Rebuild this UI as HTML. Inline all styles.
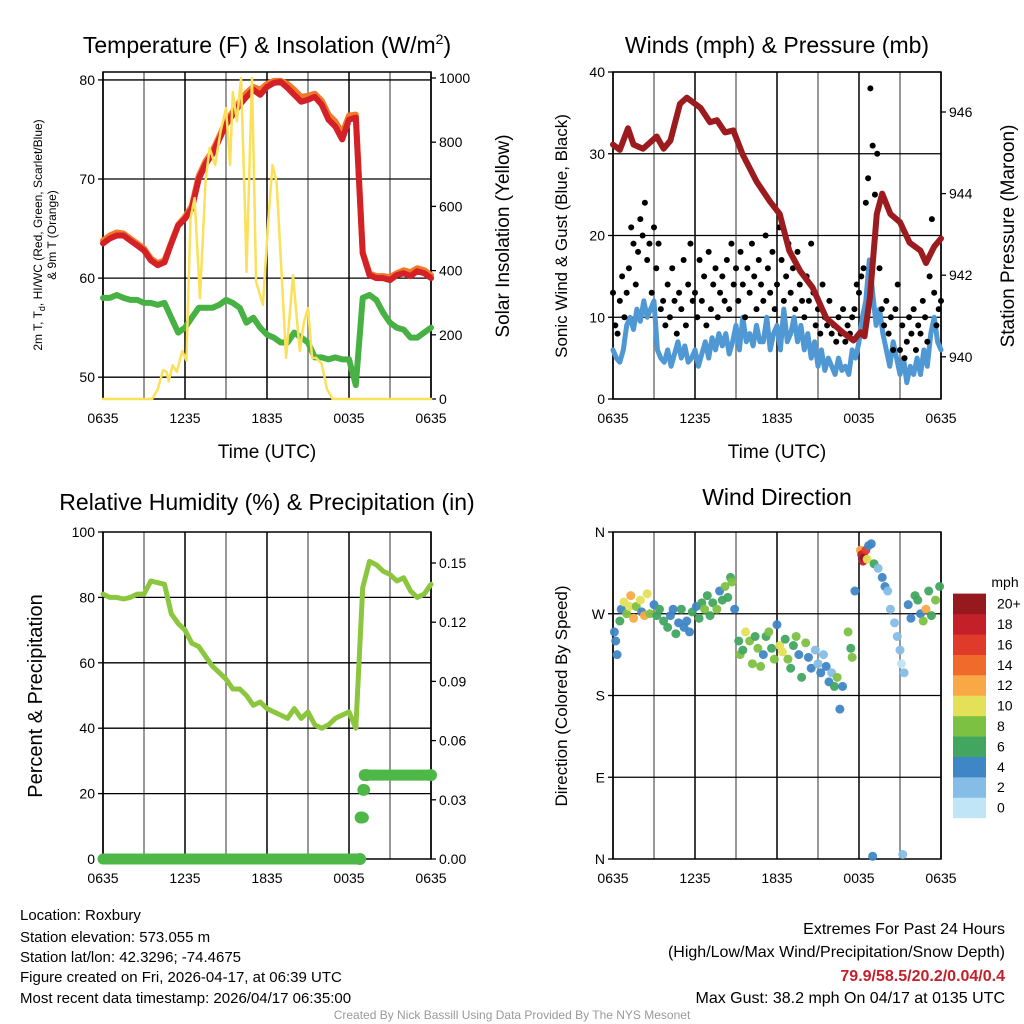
<!DOCTYPE html>
<html><head><meta charset="utf-8"><style>
html,body{margin:0;padding:0;background:#fff;}
svg{display:block;font-family:"Liberation Sans",sans-serif;}
</style></head><body>
<svg id="fig" width="1024" height="1024" viewBox="0 0 1024 1024" xmlns="http://www.w3.org/2000/svg">
<rect width="1024" height="1024" fill="#fff"/>
<g id="g1"></g><g id="g2"></g><g id="g3"></g><g id="g4"></g>
<text x="267" y="53" font-size="23" text-anchor="middle">Temperature (F) &amp; Insolation (W/m<tspan font-size="14" dy="-9">2</tspan><tspan dy="9">)</tspan></text>
<text x="777" y="53" font-size="23" text-anchor="middle">Winds (mph) &amp; Pressure (mb)</text>
<text x="267" y="510" font-size="23" text-anchor="middle">Relative Humidity (%) &amp; Precipitation (in)</text>
<text x="777" y="505" font-size="23" text-anchor="middle">Wind Direction</text>
<text x="267" y="458" font-size="19" text-anchor="middle">Time (UTC)</text>
<text x="777" y="458" font-size="19" text-anchor="middle">Time (UTC)</text>
<text transform="translate(42,235) rotate(-90)" font-size="12" text-anchor="middle">2m T, T<tspan font-size="9" dy="3">d</tspan><tspan dy="-3">, HI/WC (Red, Green, Scarlet/Blue)</tspan></text>
<text transform="translate(56,235) rotate(-90)" font-size="12" text-anchor="middle">&amp; 9m T (Orange)</text>
<text transform="translate(509,236) rotate(-90)" font-size="19" text-anchor="middle">Solar Insolation (Yellow)</text>
<text transform="translate(567,236) rotate(-90)" font-size="17" text-anchor="middle">Sonic Wind &amp; Gust (Blue, Black)</text>
<text transform="translate(1014,236) rotate(-90)" font-size="19" text-anchor="middle">Station Pressure (Maroon)</text>
<text transform="translate(42,696) rotate(-90)" font-size="20" text-anchor="middle">Percent &amp; Precipitation</text>
<text transform="translate(567,696) rotate(-90)" font-size="17" text-anchor="middle">Direction (Colored By Speed)</text>
<g font-size="15">
<text x="20" y="920">Location: Roxbury</text>
<text x="20" y="942">Station elevation: 573.055 m</text>
<text x="20" y="962">Station lat/lon: 42.3296; -74.4675</text>
<text x="20" y="982">Figure created on Fri, 2026-04-17, at 06:39 UTC</text>
<text x="20" y="1003">Most recent data timestamp: 2026/04/17 06:35:00</text>
</g>
<g font-size="16" text-anchor="end">
<text x="1005" y="934">Extremes For Past 24 Hours</text>
<text x="1005" y="957">(High/Low/Max Wind/Precipitation/Snow Depth)</text>
<text x="1005" y="981" fill="#c4202a" font-weight="bold">79.9/58.5/20.2/0.04/0.4</text>
<text x="1005" y="1003">Max Gust: 38.2 mph On 04/17 at 0135 UTC</text>
</g>
<text x="512" y="1019" font-size="12" fill="#999" text-anchor="middle">Created By Nick Bassill Using Data Provided By The NYS Mesonet</text>
</svg>
<script>
// ---- data ----
const xTickLabels = ["0635","1235","1835","0035","0635"];
const tempF = [63.5,64,64.3,64.3,63.8,63.3,62.8,61.8,61.3,61.6,63.5,65.3,66,67,70,71.5,72.5,74,75.5,76.5,77.5,78.3,79,78.5,79.3,79.7,79.8,79.2,78.5,77.8,78,78.3,77.5,76,75.3,74,76,76.2,62.5,60.3,60,60,59.8,60.3,60.5,60.2,60.7,60.5,60];
const temp9mF = [63.8,64.3,64.6,64.5,64,63.5,63,62,61.5,61.8,63.6,65.4,66.2,67.3,70.3,71.8,72.8,74.3,75.8,76.8,77.8,78.7,79.3,79,79.6,79.9,79.9,79.6,79,78.3,78.4,78.6,77.9,76.5,75.8,74.6,76.4,76.5,62.6,60.5,60.2,60.2,60.1,60.5,60.8,60.6,61,60.8,60.3];
const dewF = [58,58,58.3,58,57.8,57.8,57.5,57.5,57.3,57.5,56,54.5,55,56,57,57,57,57.3,57.8,57.5,57,55.5,56,55,54.3,54,53.5,53.5,54.5,54,53.5,52,52,51.8,52,51.8,51.8,49.2,58,58.3,57.8,56.5,55.5,55,54.8,54,54,54.5,55];
const solarT = [0,3.6,4.0,4.4,4.66,4.8,5.1,5.4,5.8,6.1,6.4,6.7,7.1,7.5,7.8,8.2,8.6,9.0,9.3,9.5,9.8,10.1,10.4,10.5,10.9,11.2,11.7,12.1,12.4,12.7,13.1,13.4,13.9,14.4,14.7,15.0,15.3,15.6,16.0,16.4,16.8,24];
const solarW = [0,0,30,90,84,55,105,85,150,120,563,626,314,676,782,729,832,906,729,956,865,1000,583,396,1000,365,293,560,729,676,365,128,385,150,240,283,128,128,110,30,0,0];
const presT = [0,0.5,1.1,1.5,2.2,3.2,3.7,4.2,4.9,5.4,6.4,7.1,7.6,8.2,8.8,9.5,10.5,11.5,12.2,12.9,13.7,14.6,15.6,16.8,17.6,18.1,18.4,18.8,19.3,19.7,20.3,21,21.7,22.5,22.9,23.5,24];
const presMb = [945.2,945.07,945.6,945.2,945.1,945.4,945.1,945.3,946.2,946.35,946.1,945.75,945.8,945.5,945.55,944.95,944.3,943.8,943.5,942.6,942.1,941.7,940.95,940.6,940.4,940.6,940.5,941.45,943.5,944.0,943.5,943.3,942.8,942.6,942.3,942.7,942.9];
const windMph = [6,5,4.5,6,9,10,8.5,11,9.5,12,10,11,12,6,5,4.5,6,4,5.5,7,5,6.5,4.5,5,6,4,5.5,7,5,7.5,6,8,6.5,8,5.5,7,9,6,10,7,8,6.5,9,7,7,10,6,8,9,6,11,7,8,10,7,9,6,8,5,7,4,6,3.5,5,4,3,5,3.5,4,3,6,5,7,10,12,17,13,9,11,8,6,4,7,5,3,5,2,4,3,5,3,6,4,8,10,7,6];
const gustMph = [13,9,8,12,15,10,13,16,21,19,14,18,22,20,24,17,19,13,21,16,19,11,12,9,14,10,16,12,8,13,11,17,9,14,19,12,13,10,17,12,15,9,18,11,14,16,10,13,15,12,17,11,19,14,16,12,18,14,10,16,13,19,15,11,17,14,12,20,16,13,18,11,14,21,17,12,15,19,13,16,11,18,14,12,10,15,12,19,13,9,11,8,14,10,9,12,8,9,7,10,8,11,7,9,8,10,11,14,13,15,16,24,27,38,31,25,30,16,11,9,12,8,10,6,11,14,6,9,5,7,10,8,11,6,9,8,12,10,7,15,22,13,9,11,12];
const rhPct = [81,80,80,79.5,80,81,81,85,84.5,84,75,72,70,66,65,62,59,57,55,52,52,50,47,48,46,45,44,43,46,43,45,41,40,41,43,44,45,40,83,91,90,88,87,85,86,82,80,81,84];
const precipT = [0,18.8,18.85,18.95,19.05,19.15,19.3,24];
const precipIn = [0,0,0.021,0.021,0.035,0.0425,0.0425,0.0425];
const dirT = [0.1,0.2,0.3,0.5,0.6,0.8,1.0,1.2,1.3,1.5,1.7,2.0,2.1,2.3,2.5,2.7,3.0,3.2,3.4,3.7,4.0,4.2,4.4,4.6,4.8,5.0,5.2,5.4,5.6,5.8,6.1,6.3,6.5,6.7,6.9,7.1,7.3,7.6,7.8,8.0,8.2,8.4,8.6,8.7,8.9,9.2,9.3,9.5,9.7,10.0,10.2,10.4,10.6,10.8,11.0,11.2,11.4,11.6,11.8,12.0,12.2,12.4,12.6,12.8,13.0,13.2,13.4,13.6,13.8,14.1,14.3,14.5,14.8,15.0,15.2,15.4,15.6,15.8,16.0,16.2,16.4,16.6,16.8,17.2,17.4,17.5,17.7,18.1,18.2,18.3,18.4,18.5,18.6,18.7,18.9,19.0,19.1,19.4,19.7,19.9,20.1,20.3,20.6,20.8,21.0,21.1,21.2,21.3,21.6,21.8,22.1,22.3,22.5,22.7,22.9,23.1,23.3,23.6,23.9];
const dirDeg = [250,240,225,262,275,283,270,278,290,265,278,285,272,268,292,270,280,268,275,262,255,268,275,248,260,275,255,262,250,272,278,265,282,275,290,268,282,275,295,285,300,288,310,305,275,240,225,230,250,240,215,245,232,212,225,245,250,232,220,258,235,228,242,220,210,235,245,225,200,238,222,210,230,215,205,225,212,195,205,190,200,165,190,250,232,222,295,340,335,328,332,340,330,345,347,3,325,320,310,300,295,275,260,245,230,215,5,205,280,265,290,285,270,262,275,295,268,285,300];
const dirSpd = [4,4,4,6,4,10,8,10,12,12,8,10,4,12,10,8,4,6,6,6,6,4,4,6,4,6,4,4,4,6,4,6,6,8,6,6,6,8,4,6,8,6,6,8,4,6,8,6,10,8,8,6,8,8,4,6,8,6,8,4,10,10,6,8,6,6,8,4,6,8,4,4,2,2,4,2,4,4,2,6,8,4,4,8,6,8,4,12,18,18,20,16,10,4,4,4,6,2,4,4,2,2,2,2,2,0,2,2,4,4,6,6,4,8,12,6,6,8,6];
const dirTicks = ["N","E","S","W","N"];
const speedBins = ["0","2","4","6","8","10","12","14","16","18","20+"];
const speedColors = ["#c0e5f6","#86bde6","#3f86c6","#42a660","#7dc142","#e4e058","#f8a946","#f06a2b","#e03b2a","#c4202a","#961a1d"];

const NS="http://www.w3.org/2000/svg";
function mk(parent,tag,attrs){const e=document.createElementNS(NS,tag);for(const k in attrs)e.setAttribute(k,attrs[k]);parent.appendChild(e);return e;}
function axis(x0,x1,y0,y1,d0,d1){return {x:t=>x0+(t/24)*(x1-x0),y:v=>y1-(v-d0)/(d1-d0)*(y1-y0)};}
function frame(g,X0,X1,Y0,Y1,name){
  for(let i=0;i<=8;i++){const x=X0+i*(X1-X0)/8;
    const l=mk(g,'line',{x1:x,x2:x,y1:Y0,y2:Y1,stroke:i%2?'#777':'#000','stroke-width':1.5});
    
    
    if(i%2===0){const tx=mk(g,'text',{x:x,y:Y1+24,'font-size':14,'text-anchor':'middle'});tx.textContent=xTickLabels[i/2];
      
      }
  }
  const r=mk(g,'rect',{x:X0,y:Y0,width:X1-X0,height:Y1-Y0,fill:'none',stroke:'#000','stroke-width':1.5});
  
  
}
function hline(g,X0,X1,y,name){const l=mk(g,'line',{x1:X0,x2:X1,y1:y,y2:y,stroke:'#000','stroke-width':1.3});
  
  }
function tick(g,x,y,txt,side,name){const t=mk(g,'text',{x:side==='l'?x-8:x+8,y:y+5,'font-size':14,'text-anchor':side==='l'?'end':'start'});t.textContent=txt;
  
  
  mk(g,'line',{x1:x,x2:side==='l'?x-5:x+5,y1:y,y2:y,stroke:'#000','stroke-width':1.3});}
function line(g,xs,ys,color,w,name){let d='';for(let i=0;i<xs.length;i++)d+=(i?'L':'M')+xs[i].toFixed(1)+' '+ys[i].toFixed(1);
  const p=mk(g,'path',{d:d,fill:'none',stroke:color,'stroke-width':w,'stroke-linejoin':'round','stroke-linecap':'round'});
  
  return p;}
const half=n=>Array.from({length:n},(_,i)=>i*24/(n-1));

// Panel 1
{const g=document.getElementById('g1');const A=axis(103,431,72,399,47.8,80.8);
 frame(g,103,431,72,399,'temp');
 [50,60,70,80].forEach(v=>{hline(g,103,431,A.y(v),'temp-hgrid');tick(g,103,A.y(v),String(v),'l','temp-y-tick');});
 const yr=v=>399-v*0.321;
 [0,200,400,600,800,1000].forEach(v=>tick(g,431,yr(v),String(v),'r','solar-y-tick'));
 const tt=half(tempF.length);
 line(g,tt.map(A.x),temp9mF.map(A.y),'#f07a2a',6,'temp-9m-line');
 line(g,tt.map(A.x),tempF.map(A.y),'#d42027',6,'temp-2m-line');
 line(g,half(dewF.length).map(A.x),dewF.map(A.y),'#47b243',6,'dewpoint-line');
 line(g,solarT.map(A.x),solarW.map(yr),'#fbe05a',2.5,'solar-line');
}
// Panel 2
{const g=document.getElementById('g2');const A=axis(613,941,72,399,0,40);
 frame(g,613,941,72,399,'wind');
 [0,10,20,30,40].forEach(v=>{hline(g,613,941,A.y(v),'wind-hgrid');tick(g,613,A.y(v),String(v),'l','wind-y-tick');});
 const yp=v=>112+(946-v)*40.8;
 [940,942,944,946].forEach(v=>tick(g,941,yp(v),String(v),'r','pressure-y-tick'));
 line(g,half(windMph.length).map(A.x),windMph.map(A.y),'#4f98d4',5,'sonic-wind-line');
 const gt=half(gustMph.length);
 gustMph.forEach((v,i)=>{const c=mk(g,'circle',{cx:A.x(gt[i]),cy:A.y(v),r:3,fill:'#000'});
   
   });
 line(g,presT.map(A.x),presMb.map(yp),'#9b1b1e',6,'pressure-line');
}
// Panel 3
{const g=document.getElementById('g3');const A=axis(103,431,532,859,0,100);
 frame(g,103,431,532,859,'rh');
 [0,20,40,60,80,100].forEach(v=>{if(v>0&&v<100)hline(g,103,431,A.y(v),'rh-hgrid');tick(g,103,A.y(v),String(v),'l','rh-y-tick');});
 const yq=v=>859-v/0.03*59.2;
 ["0.00","0.03","0.06","0.09","0.12","0.15"].forEach(s=>tick(g,431,yq(parseFloat(s)),s,'r','precip-y-tick'));
 line(g,half(rhPct.length).map(A.x),rhPct.map(A.y),'#8cc63f',5,'rh-line');
 for(let i=0;i<precipT.length-1;i++){
   line(g,[A.x(precipT[i]),A.x(precipT[i+1])],[yq(precipIn[i]),yq(precipIn[i])],'#4db848',11,'precip-segment');
 }
 for(let i=1;i<precipT.length;i++){
   const c=mk(g,'circle',{cx:A.x(precipT[i]),cy:yq(precipIn[i]),r:6,fill:'#4db848'});
   
   }
}
// Panel 4
{const g=document.getElementById('g4');const X=t=>613+t/24*328;const Y=d=>859-d/360*327;
 frame(g,613,941,532,859,'dir');
 dirTicks.forEach((s,i)=>{const y=Y(i*90);if(i>0&&i<4)hline(g,613,941,y,'dir-hgrid');tick(g,613,y,s,'l','dir-y-tick');});
 dirT.forEach((t,i)=>{const bin=Math.min(10,Math.floor(dirSpd[i]/2));
   const c=mk(g,'circle',{cx:X(t),cy:Y(dirDeg[i]),r:4.5,fill:speedColors[bin],'fill-opacity':0.95});
   
   });
 const ct=mk(g,'text',{x:1005,y:587,'font-size':14,'text-anchor':'middle'});ct.textContent='mph';
 
 
 speedBins.forEach((s,i)=>{const y=818-(i+1)*20.4;
   const r=mk(g,'rect',{x:953,y:y,width:33,height:20.6,fill:speedColors[i]});
   
   
   const t=mk(g,'text',{x:997,y:y+15,'font-size':14});t.textContent=s;
   
   });
}
</script>
</body></html>
